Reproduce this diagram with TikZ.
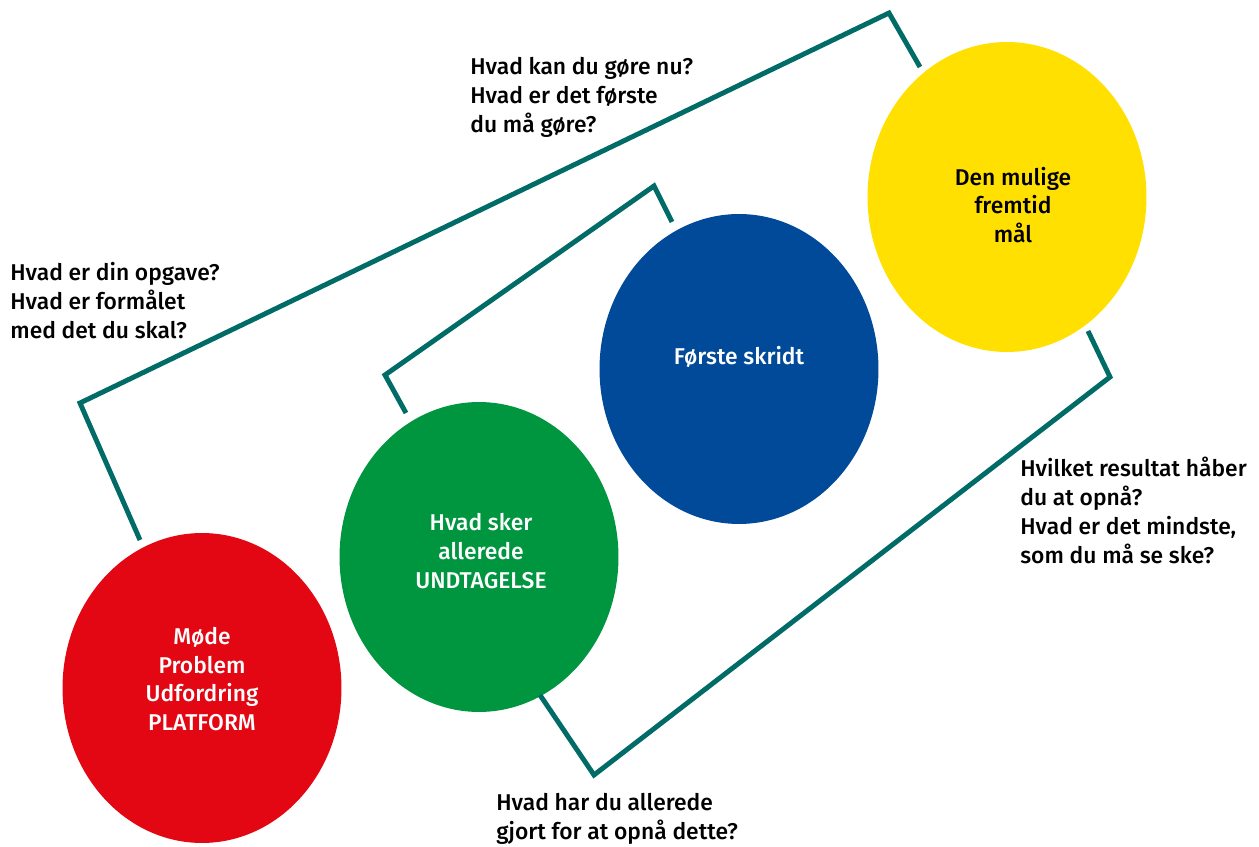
\documentclass[tikz,border=0pt]{standalone}
\usepackage{fontspec}
\setmainfont{Fira Sans}[UprightFont=* Medium]
\usetikzlibrary{shapes.geometric}
\definecolor{dkred}{RGB}{227,6,19}
\definecolor{dkgreen}{RGB}{0,150,64}
\definecolor{dkblue}{RGB}{0,74,153}
\definecolor{dkyellow}{RGB}{255,224,0}
\definecolor{tealline}{RGB}{0,107,103}
\begin{document}
\begin{tikzpicture}[x=0.02cm,y=-0.02cm,
  blob/.style={ellipse,draw=none,minimum width=5.58cm,minimum height=6.2cm,inner sep=0pt},
  blobtext/.style={text=white,align=center,inner sep=0pt,font=\fontsize{13}{16.4}\selectfont},
  question/.style={anchor=north west,align=left,inner sep=0pt,
    font=\fontsize{13}{16.4}\selectfont},
  bracket/.style={draw=tealline,line width=2.8pt,line join=miter}]
\useasboundingbox (0,0) rectangle (1259,847);

% the four stages
\node[blob,fill=dkred]    (platform)  at (202,688) {};
\node[blob,fill=dkgreen]  (exception) at (479,557) {};
\node[blob,fill=dkblue]   (firststep) at (739,369) {};
\node[blob,fill=dkyellow] (goal)      at (1007,197) {};

\node[blobtext] (platformtext)  at (202,679) {Møde\\Problem\\Udfordring\\PLATFORM};
\node[blobtext] (exceptiontext) at (481,551) {Hvad sker\\allerede\\UNDTAGELSE};
\node[blobtext] (firststeptext) at (739,357) {Første skridt};
\node[blobtext,text=black] (goaltext) at (1013,205) {Den mulige\\fremtid\\mål};

% bracket ends and corners
\coordinate (pa) at (140,540);
\coordinate (a1) at (80,403);
\coordinate (a2) at (889,13);
\coordinate (ga) at (920,67);
\coordinate (eb) at (406,413);
\coordinate (b1) at (385,375);
\coordinate (b2) at (654,186);
\coordinate (fb) at (672,222);
\coordinate (ec) at (540,695);
\coordinate (c1) at (594,775);
\coordinate (c2) at (1110,377);
\coordinate (gc) at (1088,331);

\draw[bracket] (pa) -- (a1) -- (a2) -- (ga);
\draw[bracket] (eb) -- (b1) -- (b2) -- (fb);
\draw[bracket] (ec) -- (c1) -- (c2) -- (gc);

% questions
\node[question] (q1) at (10,262) {Hvad er din opgave?\\Hvad er formålet\\med det du skal?};
\node[question] (q2) at (470,57) {Hvad kan du gøre nu?\\Hvad er det første\\du må gøre?};
\node[question] (q3) at (1020,457) {Hvilket resultat håber\\du at opnå?\\Hvad er det mindste,\\som du må se ske?};
\node[question] (q4) at (496,793) {Hvad har du allerede\\gjort for at opnå dette?};
\end{tikzpicture}
\end{document}
